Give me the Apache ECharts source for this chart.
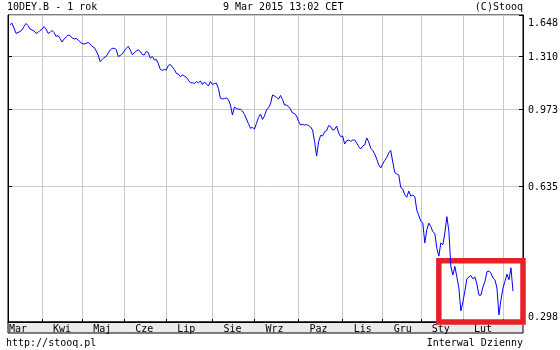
<!DOCTYPE html>
<html><head><meta charset="utf-8">
<script src="https://cdn.jsdelivr.net/npm/echarts@6/dist/echarts.min.js"></script>
<style>html,body{margin:0;padding:0;background:#fff}#c{width:560px;height:350px}</style>
</head><body><div id="c"></div>
<script>
// Month labels (Polish), one entry per month segment of the axis
const monthNames = ['Mar','Kwi','Maj','Cze','Lip','Sie','Wrz','Paz','Lis','Gru','Sty','Lut','Mar'];
// Daily values (German 10Y yield, %), one array per month
const mar14 = [1.561,1.574,1.533,1.488,1.495,1.503,1.516,1.546,1.572,1.554,1.524,1.516,1.508,1.487,1.495,1.512];
const apr14 = [1.524,1.544,1.524,1.488,1.495,1.512,1.495,1.462,1.470,1.446,1.418,1.442,1.458,1.474,1.470,1.450,1.442,1.446,1.434,1.418];
const may14 = [1.406,1.402,1.408,1.414,1.402,1.383,1.377,1.349,1.319,1.271,1.286,1.301,1.308,1.334,1.356,1.368,1.369,1.360,1.308,1.315,1.326];
const jun14 = [1.349,1.368,1.384,1.356,1.322,1.334,1.349,1.356,1.345,1.322,1.319,1.345,1.337,1.295,1.308,1.283,1.286,1.258,1.217,1.210,1.217];
const jul14 = [1.213,1.244,1.251,1.234,1.217,1.191,1.186,1.169,1.180,1.173,1.165,1.147,1.130,1.130,1.126,1.137,1.130,1.141,1.119,1.135,1.122,1.110,1.137];
const aug14 = [1.119,1.125,1.128,1.094,1.036,1.032,1.035,1.038,1.029,0.998,0.944,0.987,0.979,0.975,0.975,0.965,0.947,0.923,0.900,0.877,0.881];
const sep14 = [0.873,0.901,0.931,0.949,0.921,0.939,0.971,0.984,1.004,1.055,1.050,1.041,1.032,1.053,1.029,0.998,0.998,0.990,0.974,0.955,0.952,0.939];
const oct14 = [0.911,0.893,0.896,0.893,0.895,0.890,0.883,0.868,0.814,0.751,0.813,0.843,0.840,0.860,0.865,0.890,0.885,0.868,0.871,0.888,0.854,0.837];
const nov14 = [0.840,0.803,0.818,0.821,0.815,0.821,0.821,0.808,0.792,0.781,0.794,0.799,0.831,0.813,0.785,0.775,0.760,0.739,0.715,0.703];
const dec14 = [0.719,0.733,0.745,0.764,0.775,0.727,0.685,0.680,0.676,0.630,0.625,0.605,0.597,0.618,0.601,0.604,0.599,0.556,0.539];
const jan15 = [0.523,0.517,0.463,0.498,0.517,0.507,0.493,0.488,0.449,0.430,0.463,0.458,0.489,0.536,0.495,0.406,0.387,0.406,0.383,0.360,0.317];
const feb15 = [0.333,0.354,0.379,0.383,0.386,0.379,0.383,0.368,0.346,0.346,0.362,0.373,0.394,0.396,0.391,0.381,0.377,0.360,0.310,0.337];
const mar15 = [0.360,0.374,0.389,0.377,0.403,0.354];
// Y axis tick labels (log scale)
const yTicks = [0.298, 0.635, 0.973, 1.310, 1.648];
const yMin = 0.298, yMax = 1.648;
// Highlight box (annotation): starting category index and top value
const boxFromIndex = 215, boxTopValue = 0.419;

const F = 'DejaVu Sans Mono';
const monthly = [mar14,apr14,may14,jun14,jul14,aug14,sep14,oct14,nov14,dec14,jan15,feb15,mar15];
const cats = ['start'];
const monthStart = [];
monthly.forEach((arr, m) => {
  monthStart.push(cats.length);
  arr.forEach((v, k) => cats.push(monthNames[m] + '|' + m + '|' + k));
});
for (let p = 0; p < 5; p++) cats.push('pad|' + p);
const values = [null].concat(...monthly);
const labelIdx = new Set([5]);
for (let m = 1; m < 12; m++) labelIdx.add(monthStart[m] + 10);
const tickIdx = new Set(monthStart.slice(1));

const chart = echarts.init(document.getElementById('c'), null, {renderer: 'canvas'});
const txt = {fontFamily: F, fontSize: 10, fontWeight: 'normal', color: '#000'};
chart.setOption({
  animation: false,
  backgroundColor: '#fff',
  title: [
    {text: '10DEY.B - 1 rok', left: 7, top: 2, padding: 0, textStyle: txt},
    {text: '9 Mar 2015 13:02 CET', left: 223, top: 2, padding: 0, textStyle: txt},
    {text: '(C)Stooq', right: 37, top: 2, padding: 0, textStyle: txt},
    {text: 'http://stooq.pl', left: 6, top: 338, padding: 0, textStyle: txt},
    {text: 'Interwal Dzienny', right: 37, top: 338, padding: 0, textStyle: txt}
  ],
  grid: [
    {left: 8, right: 37, top: 15, bottom: 28, show: true, backgroundColor: '#fff', borderColor: '#000', borderWidth: 1, containLabel: false, outerBoundsMode: 'none'},
    {left: 8, right: 37, top: 322, height: 11, show: true, backgroundColor: '#ebebeb', borderColor: '#000', borderWidth: 1, containLabel: false, outerBoundsMode: 'none'}
  ],
  xAxis: [
    {
      type: 'category', gridIndex: 0, data: cats, boundaryGap: false,
      axisLine: {show: true, lineStyle: {color: '#000', width: 1}},
      axisTick: {show: true, inside: true, length: 3, interval: (i) => tickIdx.has(i), lineStyle: {color: '#000'}},
      splitLine: {show: true, interval: (i) => tickIdx.has(i), lineStyle: {color: '#c8c8c8', width: 1}},
      axisLabel: {show: true, interval: (i) => labelIdx.has(i), formatter: (v) => v.split('|')[0], margin: 2, fontFamily: F, fontSize: 10, color: '#000'}
    },
    {type: 'value', gridIndex: 1, show: false}
  ],
  yAxis: [
    {
      type: 'log', logBase: 10, gridIndex: 0, position: 'left', min: yMin, max: yMax,
      axisLine: {show: true, lineStyle: {color: '#000'}},
      axisTick: {show: true, inside: true, length: 4, customValues: yTicks.slice(1, 4), lineStyle: {color: '#000'}},
      axisLabel: {show: false},
      splitLine: {show: false}
    },
    {
      type: 'log', logBase: 10, gridIndex: 0, position: 'right', min: yMin, max: yMax,
      axisLine: {show: true, lineStyle: {color: '#000'}},
      axisTick: {show: true, inside: true, length: 4, customValues: yTicks, lineStyle: {color: '#000'}},
      splitLine: {show: true, lineStyle: {color: '#c8c8c8', width: 1}},
      axisLabel: {
        show: true, customValues: yTicks, margin: 5, fontFamily: F, fontSize: 10, color: '#000',
        formatter: (v) => {
          const s = v.toFixed(3);
          if (Math.abs(v - yMax) < 1e-6) return '{t|' + s + '}';
          if (Math.abs(v - yMin) < 1e-6) return '{b|' + s + '}';
          return '{n|' + s + '}';
        },
        rich: {
          t: {padding: [16, 0, 0, 0], fontFamily: F, fontSize: 10, color: '#000'},
          n: {padding: [2, 0, 0, 0], fontFamily: F, fontSize: 10, color: '#000'},
          b: {padding: [0, 0, 10, 0], fontFamily: F, fontSize: 10, color: '#000'}
        }
      }
    },
    {type: 'value', gridIndex: 1, show: false}
  ],
  series: [{
    type: 'line', xAxisIndex: 0, yAxisIndex: 1, data: values,
    symbol: 'none', showSymbol: false, connectNulls: false,
    lineStyle: {color: '#0000ff', width: 1}, itemStyle: {color: '#0000ff'},
    markArea: {
      silent: true,
      label: {show: false},
      itemStyle: {color: 'rgba(0,0,0,0)', borderColor: '#e8202a', borderWidth: 5.5},
      data: [[{xAxis: cats[boxFromIndex], yAxis: boxTopValue}, {xAxis: cats[cats.length - 1], yAxis: yMin}]]
    }
  }]
});
</script></body></html>
